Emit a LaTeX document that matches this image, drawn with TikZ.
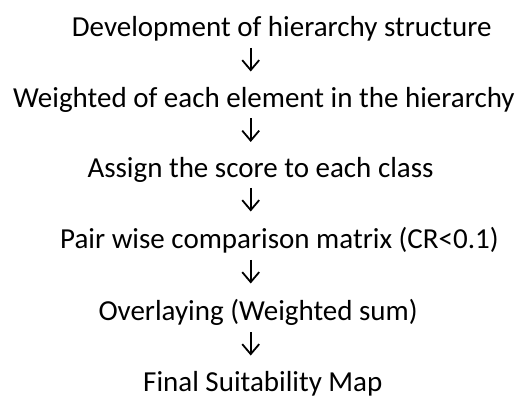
\documentclass[tikz,border=0pt]{standalone}
\usepackage{fontspec}
\setmainfont{Carlito}
\usetikzlibrary{arrows.meta}
\begin{document}
\begin{tikzpicture}[x=1pt,y=-1pt,
  steptext/.style={inner sep=0pt, anchor=base west, font=\fontsize{29}{34}\selectfont},
  arr/.style={line width=1.8pt, -{Straight Barb[length=10pt,width=17pt,line width=1.8pt]}}]
\useasboundingbox (0,0) rectangle (525,398);
\node[steptext] (n1) at (71.7,36.7) {Development of hierarchy structure};
\node[steptext] (n2) at (13,107.7) {Weighted of each element in the hierarchy};
\node[steptext] (n3) at (87.3,177.5) {Assign the score to each class};
\node[steptext] (n4) at (60,248.8) {Pair wise comparison matrix (CR<0.1)};
\node[steptext] (n5) at (98.3,320) {Overlaying (Weighted sum)};
\node[steptext] (n6) at (143,391) {Final Suitability Map};
\foreach \i/\t in {1/48,2/118.5,3/188,4/260,5/332} {
  \coordinate (s\i) at (250.7,\t);
  \coordinate (e\i) at (250.7,\t+23.5);
  \draw[arr] (s\i) -- (e\i);
}
\end{tikzpicture}
\end{document}
